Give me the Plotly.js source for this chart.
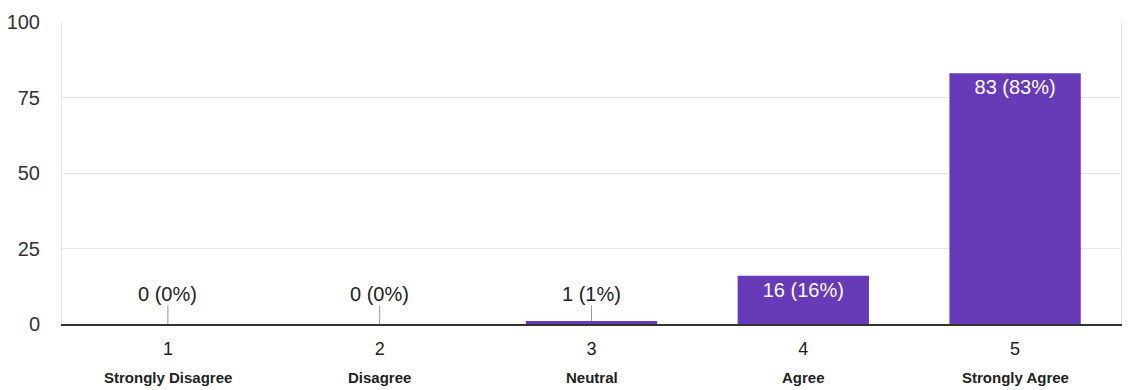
<!DOCTYPE html>
<html>
<head>
<meta charset="utf-8">
<script src="https://cdn.plot.ly/plotly-3.0.1.min.js"></script>
<style>
  html, body { margin: 0; padding: 0; background: #fff; }
  #chart { width: 1129px; height: 390px; }
</style>
</head>
<body>
<div id="chart"></div>
<script>
// Likert scale responses
const scalePoints = [1, 2, 3, 4, 5];
const scaleNames = ['Strongly Disagree', 'Disagree', 'Neutral', 'Agree', 'Strongly Agree'];
const responses = [0, 0, 1, 16, 83];
const yTicks = [0, 25, 50, 75, 100];

const total = responses.reduce((a, b) => a + b, 0);
const labels = responses.map(v => `${v} (${Math.round(v / total * 100)}%)`);

// Tall bars carry their label inside; short ones get a callout with a leader line
const insideMin = 10;
const insideText = responses.map((v, i) => v >= insideMin ? labels[i] : '');

const FONT = '"Liberation Sans", Arial, Helvetica, sans-serif';
const purple = '#673ab7';

const trace = {
  type: 'bar',
  x: scalePoints,
  y: responses,
  width: 0.62,
  marker: { color: purple, line: { width: 0 } },
  text: insideText,
  textposition: 'inside',
  insidetextanchor: 'end',
  textangle: 0,
  constraintext: 'none',
  textfont: { family: FONT, size: 20, color: '#ffffff' },
  hoverinfo: 'none'
};

const annotations = [];
responses.forEach((v, i) => {
  if (v < insideMin) {
    annotations.push({
      x: scalePoints[i], y: v,
      xref: 'x', yref: 'y',
      axref: 'x', ayref: 'y',
      ax: scalePoints[i], ay: 10,
      text: labels[i],
      showarrow: true,
      arrowhead: 0,
      arrowwidth: 1,
      arrowcolor: '#999999',
      standoff: 0,
      borderpad: 0,
      font: { family: FONT, size: 20, color: '#222222' }
    });
  }
});
scaleNames.forEach((name, i) => {
  annotations.push({
    x: scalePoints[i], y: -0.178,
    xref: 'x', yref: 'paper',
    yanchor: 'middle',
    text: `<b>${name}</b>`,
    showarrow: false,
    font: { family: FONT, size: 15, color: '#222222' }
  });
});

const layout = {
  width: 1129,
  height: 390,
  margin: { l: 62, r: 8, t: 22, b: 66 },
  paper_bgcolor: '#ffffff',
  plot_bgcolor: '#ffffff',
  showlegend: false,
  font: { family: FONT, color: '#333333' },
  xaxis: {
    range: [0.5, 5.5],
    tickvals: scalePoints,
    ticktext: scalePoints.map(String),
    tickfont: { family: FONT, size: 18, color: '#222222' },
    ticks: '',
    ticklabelstandoff: 8,
    showgrid: false,
    zeroline: false,
    showline: true,
    linecolor: '#333333',
    linewidth: 1.5,
    fixedrange: true
  },
  yaxis: {
    range: [0, 100],
    tickvals: yTicks,
    ticktext: yTicks.map(String),
    tickfont: { family: FONT, size: 20, color: '#333333' },
    ticks: '',
    ticklabelstandoff: 17,
    showgrid: true,
    gridcolor: '#e6e6e6',
    gridwidth: 1,
    zeroline: false,
    showline: true,
    mirror: true,
    linecolor: '#e6e6e6',
    linewidth: 1,
    fixedrange: true
  },
  annotations: annotations
};

Plotly.newPlot('chart', [trace], layout, { staticPlot: true, displayModeBar: false });
</script>
</body>
</html>
